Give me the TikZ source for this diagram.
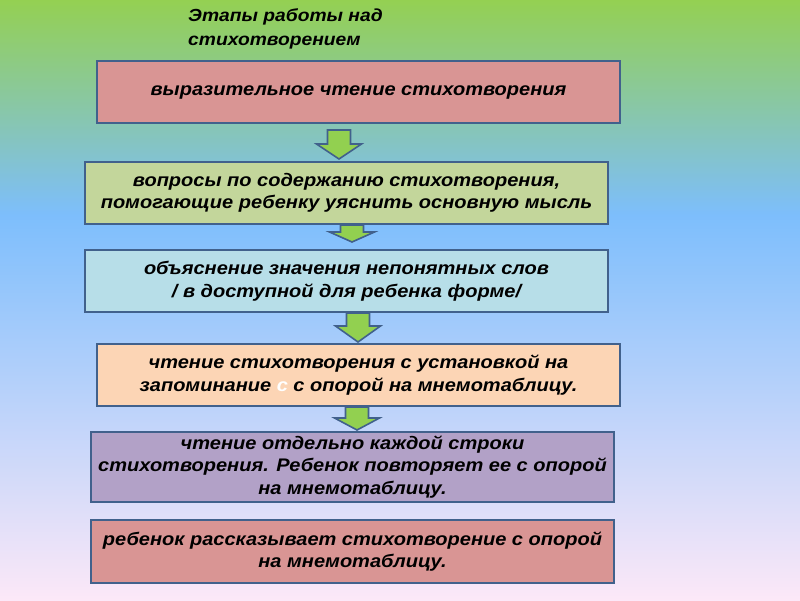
\documentclass[tikz,border=0pt]{standalone}
\usepackage{fontspec}
\setmainfont{Liberation Sans}
\newfontfamily\widefont[FakeStretch=1.1]{Liberation Sans}
\usetikzlibrary{calc}

\definecolor{bggreen}{RGB}{148,208,82}
\definecolor{bgblue}{RGB}{125,190,252}
\definecolor{bgpink}{RGB}{252,232,248}
\definecolor{edgeblue}{RGB}{65,97,140}
\definecolor{arrgreen}{RGB}{146,208,80}
\definecolor{rosefill}{RGB}{217,149,148}
\definecolor{olivefill}{RGB}{195,214,155}
\definecolor{cyanfill}{RGB}{183,222,232}
\definecolor{peachfill}{RGB}{252,213,181}
\definecolor{lilacfill}{RGB}{178,161,199}

\begin{document}
\begin{tikzpicture}[x=1pt,y=-1pt,
  box/.style={draw=edgeblue,line width=2pt,minimum width=523,minimum height=62,
    inner sep=0pt,align=center,font=\widefont\fontsize{18.2}{22.5}\selectfont\bfseries\itshape},
  fatarr/.style={draw=edgeblue,line width=1.6pt,fill=arrgreen,line join=miter}]
\def\fatarrow#1#2#3#4#5#6{%
  \path let \p1=(#1.south), \p2=(#2.north) in [fatarr]
    (#3pt-11.5pt,\y1-#4pt) -- (#3pt+11.5pt,\y1-#4pt) -- (#3pt+11.5pt,\y2+#5pt+#6pt)
    -- (#3pt+22.5pt,\y2+#5pt+#6pt) -- (#3pt,\y2+#5pt) -- (#3pt-22.5pt,\y2+#5pt+#6pt)
    -- (#3pt-11.5pt,\y2+#5pt+#6pt) -- cycle;}
\useasboundingbox (0,0) rectangle (800,600);
\shade[top color=bggreen,bottom color=bgblue] (0,0) rectangle (800,215);
\shade[top color=bgblue,bottom color=bgpink] (0,215) rectangle (800,600);

\node[anchor=north west,inner sep=0pt,align=left,
  font=\widefont\fontsize{17.5}{24}\selectfont\bfseries\itshape] (ttl) at (188,8)
  {Этапы работы над\\стихотворением};

\node[box,fill=rosefill] (b1) at (358.5,92) {выразительное чтение стихотворения};
\node[box,fill=olivefill] (b2) at (346.5,193)
  {вопросы по содержанию стихотворения,\\помогающие ребенку уяснить основную мысль};
\node[box,fill=cyanfill] (b3) at (346.5,281)
  {объяснение значения непонятных слов\\/ в доступной для ребенка форме/};
\node[box,fill=peachfill] (b4) at (358.5,375)
  {чтение стихотворения с установкой на\\запоминание \textcolor{white}{с} с опорой на мнемотаблицу.};
\node[box,fill=lilacfill,minimum height=70] (b5) at (352.5,467)
  {чтение отдельно каждой строки\\стихотворения. Ребенок повторяет ее с опорой\\на мнемотаблицу.};
\node[box,fill=rosefill,minimum height=63] (b6) at (352.5,551.5)
  {ребенок рассказывает стихотворение с опорой\\на мнемотаблицу.};

\fatarrow{b1}{b2}{339}{6}{2}{15}
\fatarrow{b2}{b3}{352}{0}{7}{10}
\fatarrow{b3}{b4}{358}{0}{1}{16}
\fatarrow{b4}{b5}{357}{0}{1}{12}
\end{tikzpicture}
\end{document}
